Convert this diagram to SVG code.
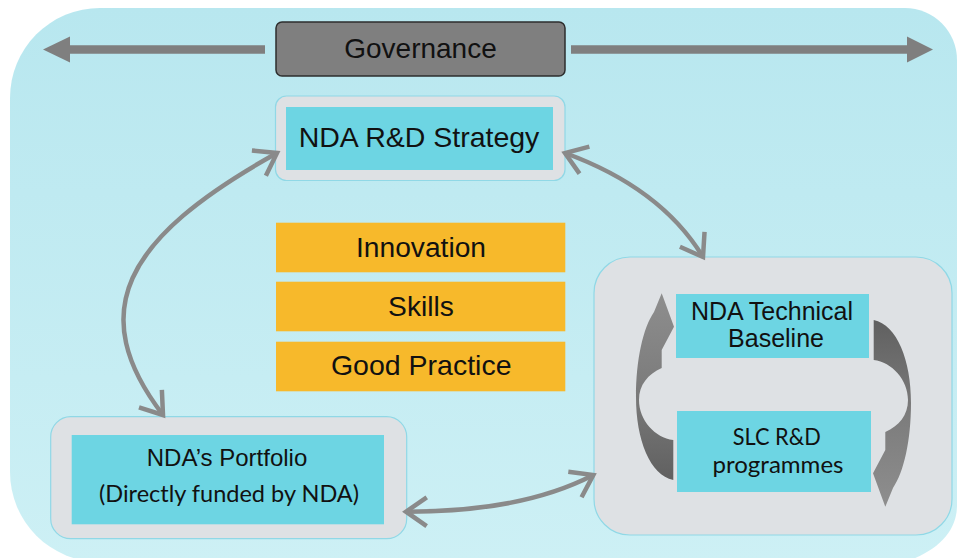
<svg xmlns="http://www.w3.org/2000/svg" width="957" height="558" viewBox="0 0 957 558">
  <style>
    .t { font-family: "Liberation Sans", Arial, sans-serif; fill: #111; text-anchor: middle; }
    .c { font-family: Lato, "Liberation Sans", sans-serif; fill: #111; text-anchor: middle; }
    .outer { fill: #dee1e4; stroke: #90d8e6; stroke-width: 1.2; }
    .inner { fill: #6dd5e3; }
    .orange { fill: #f7b92b; }
    .conn { fill: none; stroke: #8a8a8a; stroke-width: 4.5; }
  </style>
  <defs>
    <linearGradient id="bg" x1="0" y1="0" x2="0" y2="1">
      <stop offset="0" stop-color="#b8e7ef"/>
      <stop offset="1" stop-color="#cdf0f5"/>
    </linearGradient>
    <linearGradient id="blk" x1="0" y1="0" x2="0" y2="1">
      <stop offset="0" stop-color="#8e8e8e"/>
      <stop offset="0.5" stop-color="#7c7c7c"/>
      <stop offset="1" stop-color="#606060"/>
    </linearGradient>
    <marker id="chev" viewBox="-30 -20 40 40" markerWidth="40" markerHeight="40" refX="0" refY="0" markerUnits="userSpaceOnUse" orient="auto-start-reverse" overflow="visible">
      <path d="M -20.7 -14.4 L 0 0 L -20.7 14.4" fill="none" stroke="#8a8a8a" stroke-width="4.5"/>
    </marker>
    <path id="carrow" d="M 661.7 293.3 L 674 326.7 L 661.7 350 L 661.7 368 C 648 374 639 385 639 400 C 639 420 655 438 673.3 440 L 673.3 480 C 650 475 636 440 636 397 C 636 360 643 328 654 312 Z" fill="url(#blk)"/>
  </defs>

  <path id="background" d="M 100 8 H 905 A 52 52 0 0 1 957 60 V 505 C 957 530 940 550 905 562 H 100 A 90 90 0 0 1 10 472 V 98 A 90 90 0 0 1 100 8 Z" fill="url(#bg)"/>

  <g id="governance">
    <path d="M 265 49.5 H 70" stroke="#7f7f7f" stroke-width="8.5" fill="none"/>
    <path d="M 43 49.5 L 70 36.5 L 70 62.5 Z" fill="#7f7f7f"/>
    <path d="M 571 49.5 H 908" stroke="#7f7f7f" stroke-width="8.5" fill="none"/>
    <path d="M 933 49.5 L 907 36.5 L 907 62.5 Z" fill="#7f7f7f"/>
    <rect x="276" y="22" width="289" height="54" rx="6" fill="#7f7f7f" stroke="#2e2e2e" stroke-width="1.5"/>
    <text class="t" x="420.5" y="58.3" font-size="28">Governance</text>
  </g>

  <g id="strategy">
    <rect class="outer" x="275.5" y="96" width="289.5" height="84.5" rx="11"/>
    <rect class="inner" x="286" y="107" width="267" height="63"/>
    <text class="t" x="419" y="146.7" font-size="28.5">NDA R&amp;D Strategy</text>
  </g>

  <g id="innovation">
    <rect class="orange" x="276" y="222.7" width="289.3" height="49.6"/>
    <text class="t" x="421" y="256.7" font-size="28.2">Innovation</text>
  </g>
  <g id="skills">
    <rect class="orange" x="276" y="281.7" width="289.3" height="49.6"/>
    <text class="t" x="421" y="315.5" font-size="28.2">Skills</text>
  </g>
  <g id="good-practice">
    <rect class="orange" x="276" y="341.7" width="289.3" height="49.6"/>
    <text class="t" x="421.2" y="375.3" font-size="28.5">Good Practice</text>
  </g>

  <g id="portfolio">
    <rect class="outer" x="50.7" y="416.7" width="356" height="122" rx="20"/>
    <rect class="inner" x="71.7" y="435" width="312.3" height="89.3"/>
    <text class="t" x="227" y="465.7" font-size="24">NDA’s Portfolio</text>
    <text class="c" x="229" y="501.7" font-size="23" textLength="260" lengthAdjust="spacingAndGlyphs">(Directly funded by NDA)</text>
  </g>

  <g id="slc-group">
    <rect class="outer" x="594" y="257" width="358" height="278" rx="36"/>
    <g id="technical-baseline">
      <rect class="inner" x="676" y="294" width="193" height="64"/>
      <text class="t" x="772" y="320" font-size="25">NDA Technical</text>
      <text class="t" x="776" y="347.3" font-size="25">Baseline</text>
    </g>
    <g id="slc-programmes">
      <rect class="inner" x="677" y="411" width="194" height="81"/>
      <text class="c" x="776.7" y="445" font-size="23" textLength="88" lengthAdjust="spacingAndGlyphs">SLC R&amp;D</text>
      <text class="c" x="778" y="472.7" font-size="23" textLength="131" lengthAdjust="spacingAndGlyphs">programmes</text>
    </g>
    <g id="cycle-arrows">
      <use href="#carrow"/>
      <use href="#carrow" transform="rotate(180 773.5 400)"/>
    </g>
  </g>

  <g id="connectors">
    <path class="conn" d="M 277 153 C 122 239 85 313 163 415" marker-start="url(#chev)" marker-end="url(#chev)"/>
    <path class="conn" d="M 565 153 Q 661 188 703 257" marker-start="url(#chev)" marker-end="url(#chev)"/>
    <path class="conn" d="M 406 511.7 Q 522 512 593.3 475" marker-start="url(#chev)" marker-end="url(#chev)"/>
  </g>
</svg>
